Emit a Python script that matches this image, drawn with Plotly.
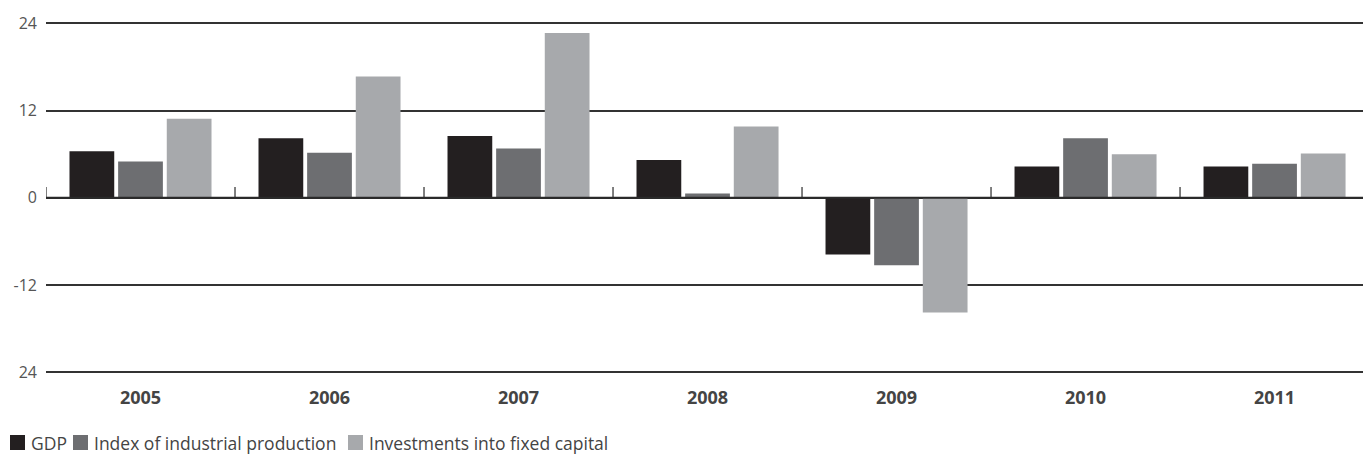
import plotly.graph_objects as go

years = ["2005", "2006", "2007", "2008", "2009", "2010", "2011"]
gdp = [6.4, 8.2, 8.5, 5.2, -7.8, 4.3, 4.3]
industrial = [5.0, 6.2, 6.8, 0.6, -9.3, 8.2, 4.7]
investments = [10.9, 16.7, 22.7, 9.8, -15.8, 6.0, 6.1]

series_names = ["GDP", "Index of industrial production", "Investments into fixed capital"]
series_values = [gdp, industrial, investments]
series_colors = ["#231f20", "#6d6e71", "#a7a9ac"]

y_ticks = [24, 12, 0, -12, -24]
y_tick_text = ["24", "12", "0", "-12", "24"]

W, H = 1363, 455
M_L, M_R, M_T, M_B = 46, 0, 20, 80
PLOT_W = W - M_L - M_R
PLOT_H = H - M_T - M_B


def px_x(px):
    return (px - M_L) / PLOT_W


def px_y(py):
    return (H - M_B - py) / PLOT_H


fig = go.Figure()
for name, values, color in zip(series_names, series_values, series_colors):
    fig.add_trace(go.Bar(
        x=years, y=values, name=name,
        marker=dict(color=color, line=dict(width=0)),
        showlegend=False,
    ))

# short separators rising from the zero line between year groups
shapes = []
for i in range(len(years)):
    shapes.append(dict(
        type="line", xref="x", yref="y",
        x0=i - 0.5, x1=i - 0.5, y0=0, y1=1.5,
        line=dict(color="#555555", width=1.5),
    ))
# zero line drawn over the bars' baseline
shapes.append(dict(
    type="line", xref="paper", yref="y", x0=0, x1=1, y0=0, y1=0,
    line=dict(color="#2a2a2a", width=2), layer="above",
))

# legend row under the chart: swatch + label for each series
annotations = []
legend_swatch_x = [10, 73, 348]
legend_top, legend_bottom = 435, 450
for name, color, sx in zip(series_names, series_colors, legend_swatch_x):
    shapes.append(dict(
        type="rect", xref="paper", yref="paper",
        x0=px_x(sx), x1=px_x(sx + 15),
        y0=px_y(legend_bottom), y1=px_y(legend_top),
        fillcolor=color, line=dict(width=0),
    ))
    annotations.append(dict(
        xref="paper", yref="paper",
        x=px_x(sx + 19), y=px_y((legend_top + legend_bottom) / 2),
        xanchor="left", yanchor="middle", showarrow=False,
        text=name, font=dict(size=17.5, color="#444444"),
    ))

fig.update_layout(
    width=W, height=H,
    margin=dict(l=M_L, r=M_R, t=M_T, b=M_B),
    paper_bgcolor="white", plot_bgcolor="white",
    barmode="group", bargap=0.228, bargroupgap=0.08,
    font=dict(family="Open Sans", color="#555555"),
    shapes=shapes, annotations=annotations,
    showlegend=False,
    xaxis=dict(
        range=[-0.5, 6.468], showgrid=False, zeroline=False,
        showline=False, ticks="",
        tickfont=dict(size=18, color="#444444", weight="bold"),
        ticklabelstandoff=10,
    ),
    yaxis=dict(
        range=[-24.4, 24.48], tickvals=y_ticks, ticktext=y_tick_text,
        showgrid=True, gridcolor="#333333", gridwidth=1.5,
        zeroline=False, showline=False, ticks="",
        tickfont=dict(size=16, color="#555555"),
        ticklabelstandoff=8,
    ),
)

fig.write_html("out.html")
